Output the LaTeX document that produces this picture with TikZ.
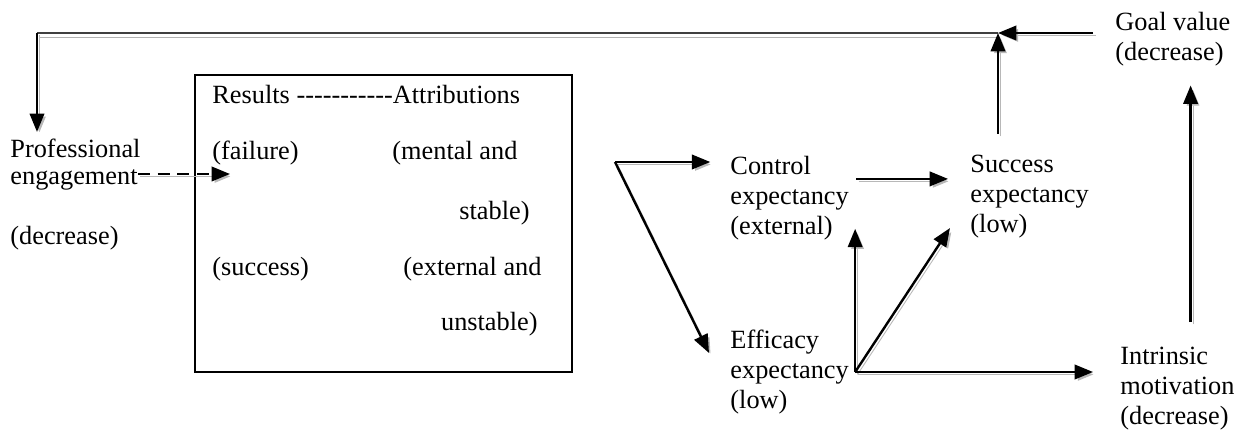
\documentclass[tikz,border=0pt]{standalone}
\usepackage{fontspec}
\setmainfont{Liberation Serif}
\usetikzlibrary{arrows.meta,calc}

\begin{document}
\begin{tikzpicture}[x=0.456pt,y=-0.456pt,
	txt/.style={inner sep=0,anchor=west,align=left,font=\fontsize{12}{13.7}\selectfont},
	shadowed/.style={preaction={draw=black!28,transform canvas={shift={(1.1pt,-1.1pt)}}}},
	arr/.style={-{Triangle[length=8.4pt,width=6.6pt]},line width=1.1pt,shadowed},
	dasharr/.style={arr,dash pattern=on 5.5pt off 3.5pt},
	attrbox/.style={draw,line width=1.1pt,minimum width=171.9pt,minimum height=135.4pt,inner sep=0}]
	\useasboundingbox (0,0) rectangle (1236,434);
	% results and attributions
	\node[attrbox] (attr) at (383.5,223.5) {};
	\node[txt] (res) at (212,95) {Results \foreach \i in {1,...,11}{-\kern0pt}Attributions};
	\node[txt] (fail) at (212,153) {(failure)};
	\node[txt] (ment) at (392,153) {(mental and};
	\node[txt,anchor=east] (stab) at (530,213) {stable)};
	\node[txt] (sucs) at (212,269) {(success)};
	\node[txt] (extn) at (403,269) {(external and};
	\node[txt,anchor=east] (unst) at (538,324) {unstable)};
	% the other boxes
	\node[txt,font=\fontsize{12}{12.3}\selectfont] (prof) at (10,165) {Professional\\engagement};
	\node[txt] (decr) at (10,238) {(decrease)};
	\node[txt] (ctrl) at (730,198) {Control\\expectancy\\(external)};
	\node[txt] (succ) at (970,197) {Success\\expectancy\\(low)};
	\node[txt] (effi) at (730,372) {Efficacy\\expectancy\\(low)};
	\node[txt] (intr) at (1120,389) {Intrinsic\\motivation\\(decrease)};
	\node[txt] (goal) at (1115,39) {Goal value\\(decrease)};
	\coordinate (join) at (998,33);
	\coordinate (corner) at (37,33);
	\coordinate (fork) at (615,162);
	\coordinate (hub) at ([xshift=2.7pt]effi.east);
	% feedback loop
	\draw[line width=0.6pt,black!75,preaction={draw=black!30,transform canvas={shift={(0.8pt,-2.1pt)}}}] (join) -- (corner);
	\draw[arr,shorten >=3.2pt] (corner) -- (corner |- prof.north);
	\draw[arr,shorten <=10pt] (goal.west |- join) -- (join);
	\draw[arr,shorten <=9.6pt] (join |- succ.north) -- (join);
	\draw[arr,shorten <=11.4pt,shorten >=8.7pt] ([xshift=6pt]intr.north) -- ([xshift=6pt]intr.north |- goal.south);
	% forward arrows
	\draw[dasharr,shorten <=-1.4pt,shorten >=-8.2pt] ([yshift=-4.1pt]prof.east) -- ([yshift=-4.1pt]prof.east -| fail.west);
	\draw[arr,shorten >=9pt] (fork) -- (fork -| ctrl.west);
	\draw[arr] (fork) -- ($(effi.west)+(-21,-19)$);
	\draw[arr,shorten <=3.2pt,shorten >=10pt] ([yshift=8.7pt]ctrl.east) -- ([yshift=8.7pt]ctrl.east -| succ.west);
	\draw[arr] (hub) -- ([yshift=5.3pt]hub |- ctrl.south);
	\draw[arr] (hub) -- ($(succ.west)+(-20,31)$);
	\draw[arr,shorten >=12.3pt] (hub) -- (hub -| intr.west);
\end{tikzpicture}
\end{document}
